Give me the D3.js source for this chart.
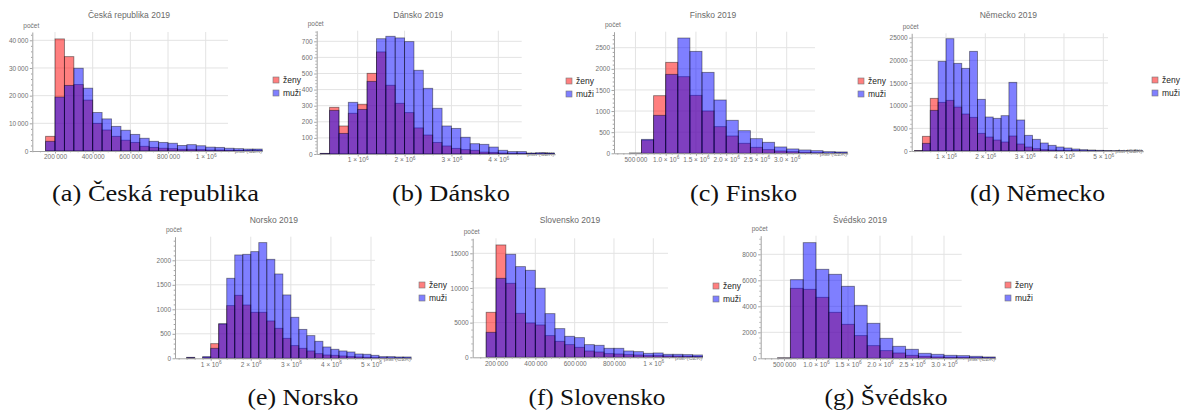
<!DOCTYPE html>
<html><head><meta charset="utf-8">
<script src="https://cdn.jsdelivr.net/npm/d3@7"></script>
<style>
body{margin:0;background:#fff}
svg{display:block}
</style></head><body>
<svg id="fig" width="1191" height="414"></svg>
<script>
// ---- Salary histograms 2019: counts of women (ženy) and men (muži) per salary bin (CZK) ----

// Česká republika
const czBinStart = 150000, czBinWidth = 50000;
const czZeny = [5300, 40500, 34100, 24000, 18400, 10000, 7600, 5300, 3900, 3100, 1700, 1300, 1000, 850, 600, 600, 500, 350, 350, 250, 200, 150, 100];
const czMuzi = [3500, 19500, 23700, 29900, 22700, 13900, 11600, 8900, 7500, 6000, 4600, 3500, 3100, 2800, 2000, 2300, 1900, 1400, 1300, 1000, 850, 700, 700];
const czYTicks = [0, 10000, 20000, 30000, 40000];
const czYLabels = ["0", "10\u2009000", "20\u2009000", "30\u2009000", "40\u2009000"];
const czXTicks = [200000, 400000, 600000, 800000, 1000000];
const czXLabels = ["200\u2009000", "400\u2009000", "600\u2009000", "800\u2009000", "1 × 10^6"];

// Dánsko
const dkBinStart = 200000, dkBinWidth = 200000;
const dkZeny = [3, 290, 174, 253, 309, 501, 634, 427, 315, 257, 162, 118, 72, 50, 35, 27, 23, 12, 10, 6, 4, 4, 2, 2, 2];
const dkMuzi = [4, 271, 128, 321, 277, 451, 716, 731, 721, 698, 520, 408, 284, 174, 159, 104, 64, 60, 43, 23, 15, 15, 6, 8, 6];
const dkYTicks = [0, 100, 200, 300, 400, 500, 600, 700];
const dkYLabels = ["0", "100", "200", "300", "400", "500", "600", "700"];
const dkXTicks = [1000000, 2000000, 3000000, 4000000];
const dkXLabels = ["1 × 10^6", "2 × 10^6", "3 × 10^6", "4 × 10^6"];

// Finsko
const fiBinStart = 400000, fiBinWidth = 200000;
const fiZeny = [3, 310, 1364, 2153, 1814, 1372, 1002, 631, 410, 237, 142, 87, 55, 39, 24, 16, 8, 8];
const fiMuzi = [4, 330, 899, 1869, 2729, 2413, 1916, 1262, 781, 536, 347, 260, 150, 103, 79, 63, 39, 32];
const fiYTicks = [0, 500, 1000, 1500, 2000, 2500];
const fiYLabels = ["0", "500", "1000", "1500", "2000", "2500"];
const fiXTicks = [500000, 1000000, 1500000, 2000000, 2500000, 3000000];
const fiXLabels = ["500\u2009000", "1.0 × 10^6", "1.5 × 10^6", "2.0 × 10^6", "2.5 × 10^6", "3.0 × 10^6"];

// Německo
const deBinStart = 200000, deBinWidth = 200000;
const deZeny = [100, 3235, 11618, 10735, 11176, 9706, 8162, 7426, 3897, 3088, 2426, 1985, 3309, 1544, 882, 515, 294, 220, 147, 120, 80, 60, 40, 30, 20, 15, 10, 8, 5];
const deMuzi = [80, 1691, 8971, 19779, 24779, 19338, 18235, 21985, 11397, 7500, 7206, 7794, 15147, 6838, 3456, 2574, 1765, 1250, 882, 662, 441, 294, 220, 147, 100, 80, 60, 50, 40];
const deYTicks = [0, 5000, 10000, 15000, 20000, 25000];
const deYLabels = ["0", "5000", "10000", "15000", "20000", "25000"];
const deXTicks = [1000000, 2000000, 3000000, 4000000, 5000000];
const deXLabels = ["1 × 10^6", "2 × 10^6", "3 × 10^6", "4 × 10^6", "5 × 10^6"];

// Norsko
const noBinStart = 400000, noBinWidth = 200000;
const noZeny = [14, 0, 20, 299, 700, 1075, 1286, 1088, 939, 939, 762, 612, 408, 259, 204, 150, 95, 68, 61, 48, 34, 27, 20, 14, 10, 8, 6, 5];
const noMuzi = [20, 0, 34, 204, 705, 1633, 2109, 2122, 2177, 2361, 2020, 1721, 1293, 837, 590, 463, 347, 231, 184, 150, 129, 88, 82, 61, 34, 34, 27, 27];
const noYTicks = [0, 500, 1000, 1500, 2000];
const noYLabels = ["0", "500", "1000", "1500", "2000"];
const noXTicks = [1000000, 2000000, 3000000, 4000000, 5000000];
const noXLabels = ["1 × 10^6", "2 × 10^6", "3 × 10^6", "4 × 10^6", "5 × 10^6"];

// Slovensko
const skBinStart = 150000, skBinWidth = 50000;
const skZeny = [6490, 16203, 10674, 6346, 4952, 4664, 3125, 2308, 1827, 1442, 913, 769, 529, 481, 385, 337, 240, 240, 192, 170, 144, 120];
const skMuzi = [3606, 11395, 14857, 13078, 12549, 9953, 6298, 4135, 3029, 2837, 1827, 1731, 1298, 1298, 913, 817, 577, 625, 433, 433, 385, 337];
const skYTicks = [0, 5000, 10000, 15000];
const skYLabels = ["0", "5000", "10000", "15000"];
const skXTicks = [200000, 400000, 600000, 800000, 1000000];
const skXLabels = ["200\u2009000", "400\u2009000", "600\u2009000", "800\u2009000", "1 × 10^6"];

// Švédsko
const seBinStart = 400000, seBinWidth = 200000;
const seZeny = [30, 5384, 5307, 4692, 3538, 2615, 1744, 974, 590, 410, 231, 154, 103, 77, 77, 51, 40];
const seMuzi = [30, 6051, 8897, 6846, 6461, 5538, 4077, 2692, 1538, 923, 692, 385, 308, 231, 205, 154, 103];
const seYTicks = [0, 2000, 4000, 6000, 8000];
const seYLabels = ["0", "2000", "4000", "6000", "8000"];
const seXTicks = [500000, 1000000, 1500000, 2000000, 2500000, 3000000];
const seXLabels = ["500\u2009000", "1.0 × 10^6", "1.5 × 10^6", "2.0 × 10^6", "2.5 × 10^6", "3.0 × 10^6"];

const seriesNames = ["ženy", "muži"];
const seriesColors = ["#ff0000", "#0000ff"];

// ---- layout of the seven sub-figures ----
// xA / yA: two reference values and the pixel positions they sit at
const panels = [
  {title: "Česká republika 2019", caption: "(a) Česká republika", start: czBinStart, width: czBinWidth, zeny: czZeny, muzi: czMuzi,
   xT: czXTicks, xL: czXLabels, yT: czYTicks, yL: czYLabels,
   xA: [200000, 55, 1000000, 205.7], yA: [0, 151, 40000, 40.3], axisX: 32.3, top: 32, gridEnd: 228,
   legend: [273, 77], titleX: 129, titleY: 18, capX: 155.5, capY: 201, capW: 207},
  {title: "Dánsko 2019", caption: "(b) Dánsko", start: dkBinStart, width: dkBinWidth, zeny: dkZeny, muzi: dkMuzi,
   xT: dkXTicks, xL: dkXLabels, yT: dkYTicks, yL: dkYLabels,
   xA: [1000000, 357.7, 4000000, 498.3], yA: [0, 154, 700, 41.3], axisX: 316.7, top: 30.7, gridEnd: 521.7,
   legend: [566, 78], titleX: 418.3, titleY: 18, capX: 451, capY: 201, capW: 118},
  {title: "Finsko 2019", caption: "(c) Finsko", start: fiBinStart, width: fiBinWidth, zeny: fiZeny, muzi: fiMuzi,
   xT: fiXTicks, xL: fiXLabels, yT: fiYTicks, yL: fiYLabels,
   xA: [1000000, 665.7, 3000000, 786.7], yA: [0, 153.3, 2500, 47.7], axisX: 614, top: 31.7, gridEnd: 815,
   legend: [858, 78], titleX: 713, titleY: 18, capX: 743.5, capY: 201, capW: 107},
  {title: "Německo 2019", caption: "(d) Německo", start: deBinStart, width: deBinWidth, zeny: deZeny, muzi: deMuzi,
   xT: deXTicks, xL: deXLabels, yT: deYTicks, yL: deYLabels,
   xA: [1000000, 946, 5000000, 1103.3], yA: [0, 151, 25000, 37.7], axisX: 911.7, top: 33.3, gridEnd: 1108,
   legend: [1152, 77], titleX: 1008.3, titleY: 18, capX: 1037.5, capY: 201, capW: 135},
  {title: "Norsko 2019", caption: "(e) Norsko", start: noBinStart, width: noBinWidth, zeny: noZeny, muzi: noMuzi,
   xT: noXTicks, xL: noXLabels, yT: noYTicks, yL: noYLabels,
   xA: [1000000, 210.7, 5000000, 371], yA: [0, 358.3, 2000, 260.3], axisX: 175, top: 236.7, gridEnd: 375,
   legend: [419, 282], titleX: 273.8, titleY: 223, capX: 303, capY: 405, capW: 111},
  {title: "Slovensko 2019", caption: "(f) Slovensko", start: skBinStart, width: skBinWidth, zeny: skZeny, muzi: skMuzi,
   xT: skXTicks, xL: skXLabels, yT: skYTicks, yL: skYLabels,
   xA: [200000, 496, 1000000, 653.3], yA: [0, 357.3, 15000, 253.3], axisX: 472.7, top: 238.3, gridEnd: 668,
   legend: [713, 283], titleX: 570, titleY: 223, capX: 597, capY: 405, capW: 137},
  {title: "Švédsko 2019", caption: "(g) Švédsko", start: seBinStart, width: seBinWidth, zeny: seZeny, muzi: seMuzi,
   xT: seXTicks, xL: seXLabels, yT: seYTicks, yL: seYLabels,
   xA: [500000, 784, 3000000, 944], yA: [0, 358.3, 8000, 254.3], axisX: 760.7, top: 235.7, gridEnd: 961.7,
   legend: [1005, 282], titleX: 860, titleY: 223, capX: 886, capY: 405, capW: 123}
];

const svg = d3.select("#fig");
const SANS = "'Liberation Sans', Arial, sans-serif";
const AXIS = "#a3a3a3", GRID = "#e3e3e3", LABEL = "#707070";

// writes "m × 10^e" labels with a raised exponent
function fillLabel(sel, label) {
  sel.text(null);
  const parts = label.split("^");
  sel.append("tspan").text(parts[0]);
  if (parts.length > 1) {
    sel.append("tspan").attr("dy", -2.8).attr("font-size", 4.8).text(parts[1]);
  }
}

function minorValues(major, lo, hi) {
  const step = (major[1] - major[0]) / 5;
  const out = [];
  const first = Math.ceil(lo / step) * step;
  for (let v = first; v <= hi + 1e-9; v += step) {
    if (!major.some(m => Math.abs(m - v) < step * 1e-3)) out.push(v);
  }
  return out;
}

function drawPanel(p) {
  const g = svg.append("g");
  const n = p.zeny.length;
  const binEnd = p.start + n * p.width;

  const xRef = d3.scaleLinear().domain([p.xA[0], p.xA[2]]).range([p.xA[1], p.xA[3]]);
  const yRef = d3.scaleLinear().domain([p.yA[0], p.yA[2]]).range([p.yA[1], p.yA[3]]);
  const base = yRef(0);
  const x = d3.scaleLinear().domain([xRef.invert(p.axisX), binEnd]).range([p.axisX, xRef(binEnd)]);
  const y = d3.scaleLinear().domain([0, yRef.invert(p.top)]).range([base, p.top]);
  const xEnd = x(binEnd);

  // grid lines
  g.append("g").selectAll("line").data(p.yT.filter(v => v > 0)).join("line")
    .attr("x1", p.axisX).attr("x2", p.gridEnd)
    .attr("y1", d => y(d)).attr("y2", d => y(d))
    .attr("stroke", GRID).attr("stroke-width", 1);
  g.append("g").selectAll("line").data(p.xT).join("line")
    .attr("x1", d => x(d)).attr("x2", d => x(d))
    .attr("y1", p.top).attr("y2", base)
    .attr("stroke", GRID).attr("stroke-width", 1);

  // x axis name, sits under the bars
  g.append("text").attr("x", xEnd).attr("y", base + 2.2)
    .attr("text-anchor", "end").attr("font-family", SANS).attr("font-size", 6)
    .attr("fill", "#8a8a8a").text("plat (CZK)");

  // histogram bars: women first, men drawn over them
  const lefts = d3.range(n).map(i => p.start + i * p.width);
  [p.zeny, p.muzi].forEach((vals, k) => {
    g.append("g").selectAll("rect").data(vals).join("rect")
      .attr("x", (d, i) => x(lefts[i]))
      .attr("width", (d, i) => x(lefts[i] + p.width) - x(lefts[i]))
      .attr("y", d => y(d))
      .attr("height", d => base - y(d))
      .attr("fill", seriesColors[k]).attr("fill-opacity", 0.5)
      .attr("stroke", "#000").attr("stroke-opacity", d => d > 0 ? 0.45 : 0).attr("stroke-width", 0.9);
  });

  // axes
  const styleAxis = (ax) => {
    ax.attr("font-family", SANS).attr("font-size", 6.5);
    ax.select(".domain").attr("stroke", AXIS);
    ax.selectAll(".tick line").attr("stroke", AXIS);
    ax.selectAll(".tick text").attr("fill", LABEL);
  };
  const yAx = g.append("g").attr("transform", `translate(${p.axisX},0)`)
    .call(d3.axisLeft(y).tickValues(p.yT).tickFormat((d, i) => p.yL[i]).tickSize(2.5).tickSizeOuter(0).tickPadding(1.5));
  styleAxis(yAx);
  const yMin = g.append("g").attr("transform", `translate(${p.axisX},0)`)
    .call(d3.axisLeft(y).tickValues(minorValues(p.yT, 0, y.domain()[1])).tickFormat("").tickSize(1.3).tickSizeOuter(0));
  yMin.select(".domain").remove();
  yMin.selectAll(".tick line").attr("stroke", AXIS);

  const xAx = g.append("g").attr("transform", `translate(0,${base})`)
    .call(d3.axisBottom(x).tickValues(p.xT).tickFormat("").tickSize(2.5).tickSizeOuter(0).tickPadding(1.2));
  styleAxis(xAx);
  xAx.selectAll(".tick text").each(function (d, i) { fillLabel(d3.select(this), p.xL[i]); });
  const xMin = g.append("g").attr("transform", `translate(0,${base})`)
    .call(d3.axisBottom(x).tickValues(minorValues(p.xT, x.domain()[0], binEnd)).tickFormat("").tickSize(1.3).tickSizeOuter(0));
  xMin.select(".domain").remove();
  xMin.selectAll(".tick line").attr("stroke", AXIS);

  // y axis name and plot title
  g.append("text").attr("x", p.axisX - 9).attr("y", p.top - 4.5)
    .attr("font-family", SANS).attr("font-size", 6.5).attr("fill", LABEL).text("počet");
  g.append("text").attr("x", p.titleX).attr("y", p.titleY).attr("text-anchor", "middle")
    .attr("font-family", SANS).attr("font-size", 8.5).attr("fill", "#6a6a6a").text(p.title);

  // legend
  const lg = g.append("g").attr("transform", `translate(${p.legend[0]},${p.legend[1]})`);
  seriesNames.forEach((name, k) => {
    lg.append("rect").attr("x", 0).attr("y", k * 13).attr("width", 6).attr("height", 6)
      .attr("fill", seriesColors[k]).attr("fill-opacity", 0.5)
      .attr("stroke", "#777").attr("stroke-width", 0.6);
    lg.append("text").attr("x", 10).attr("y", k * 13 + 6)
      .attr("font-family", SANS).attr("font-size", 8.5).attr("fill", "#222").text(name);
  });

  // sub-figure caption
  svg.append("text").attr("x", p.capX).attr("y", p.capY).attr("text-anchor", "middle")
    .attr("font-family", "'Liberation Serif', 'Times New Roman', serif").attr("font-size", 24)
    .attr("fill", "#111").attr("textLength", p.capW).attr("lengthAdjust", "spacingAndGlyphs")
    .text(p.caption);
}

panels.forEach(drawPanel);
</script>
</body></html>
